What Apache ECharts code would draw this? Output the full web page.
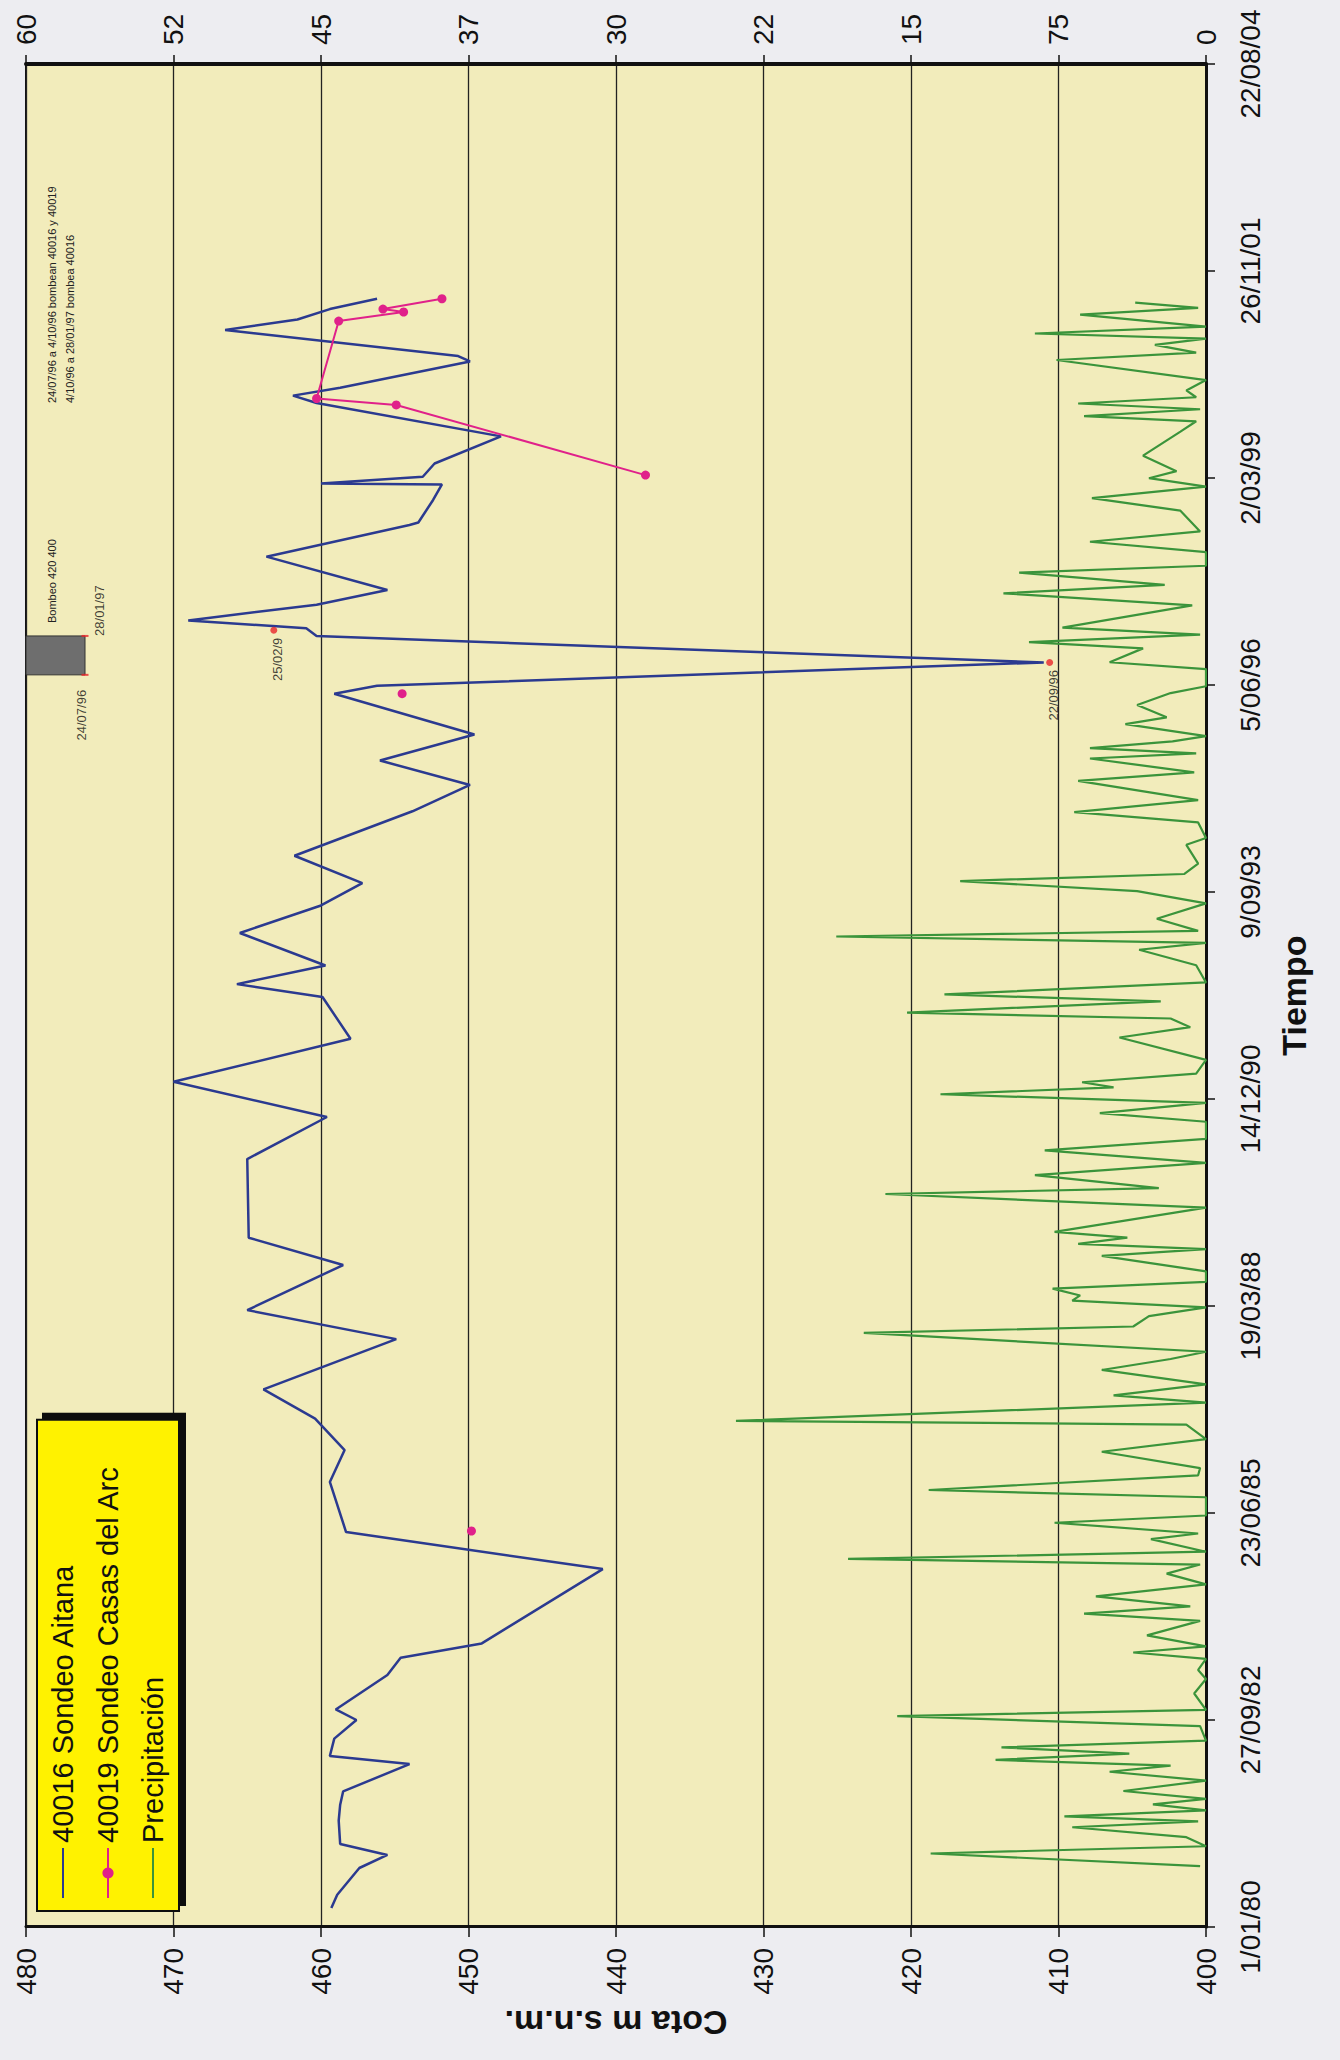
<!DOCTYPE html>
<html>
<head>
<meta charset="utf-8">
<script src="https://cdn.jsdelivr.net/npm/echarts@6/dist/echarts.min.js"></script>
<style>
  html, body { margin: 0; padding: 0; background: #ededf1; width: 1340px; height: 2060px; overflow: hidden; }
  /* El gráfico se compone apaisado y se gira 90° para la página vertical */
  #lienzo { position: absolute; left: 0; top: 0; width: 2060px; height: 1340px;
            transform-origin: 0 0; transform: translateY(2060px) rotate(-90deg); }
</style>
</head>
<body>
<div id="lienzo"></div>
<script>
// Tiempo expresado en días transcurridos desde el 1/01/80
const etiquetasTiempo = ['1/01/80', '27/09/82', '23/06/85', '19/03/88', '14/12/90',
                         '9/09/93', '5/06/96', '2/03/99', '26/11/01', '22/08/04'];
const etiquetasPrecip = ['0', '75', '15', '22', '30', '37', '45', '52', '60'];

// 40016 Sondeo Aitana (cota, m s.n.m.)
const diasAitana = [92, 156, 285, 348, 401, 514, 591, 655, 787, 826, 910, 1000, 1051, 1217, 1301,
  1370, 1729, 1908, 2150, 2304, 2456, 2597, 2840, 2980, 3198, 3330, 3710, 3913, 4083, 4291, 4493,
  4555, 4645, 4802, 4935, 5043, 5175, 5390, 5517, 5635, 5761, 5958, 5996, 6109, 6237, 6274, 6312,
  6388, 6459, 6620, 6773, 6785, 6894, 6969, 6974, 7006, 7070, 7201, 7362, 7398, 7436, 7563, 7589,
  7715, 7766, 7816, 7866];
const cotaAitana = [459.3, 458.9, 457.4, 455.5, 458.7, 458.8, 458.7, 458.5, 454.0, 459.4, 459.1, 457.6,
  459.0, 455.5, 454.6, 449.1, 440.9, 458.3, 459.4, 458.4, 460.4, 463.9, 454.9, 465.0, 458.5, 464.9,
  465.0, 459.6, 470.0, 458.0, 459.9, 465.7, 459.7, 465.5, 460.0, 457.2, 461.8, 453.8, 449.9, 456.0,
  449.6, 459.1, 456.2, 411.0, 460.3, 461.0, 469.0, 460.3, 455.5, 463.7, 454.0, 453.4, 452.4, 451.8,
  460.0, 453.1, 452.3, 447.8, 460.3, 461.9, 458.7, 449.9, 450.7, 466.5, 461.6, 459.4, 456.2];

// 40019 Sondeo Casas del Arc
const diasCasas = [1913, 5958, 7014, 7353, 7384, 7758, 7802, 7816, 7866];
const cotaCasas = [449.8, 454.5, 438.0, 454.9, 460.3, 458.8, 454.4, 455.8, 451.8];

// Precipitación
const diasPrecip = [294, 355, 390, 434, 482, 510, 534, 563, 592, 619, 657, 707, 750, 780, 807, 838,
  868, 900, 970, 1019, 1049, 1128, 1198, 1242, 1295, 1326, 1356, 1409, 1479, 1514, 1549, 1597, 1655,
  1707, 1751, 1778, 1813, 1874, 1901, 1953, 1988, 2076, 2111, 2182, 2217, 2296, 2357, 2427, 2445,
  2533, 2568, 2621, 2691, 2744, 2779, 2870, 2901, 2951, 2993, 3026, 3051, 3084, 3117, 3167, 3242,
  3275, 3300, 3330, 3358, 3475, 3541, 3569, 3632, 3691, 3752, 3807, 3890, 3932, 3981, 4023, 4056,
  4081, 4123, 4189, 4297, 4347, 4389, 4417, 4472, 4505, 4563, 4646, 4721, 4754, 4785, 4812, 4871,
  4945, 5004, 5053, 5087, 5137, 5228, 5261, 5336, 5386, 5444, 5537, 5578, 5645, 5670, 5695, 5728,
  5753, 5811, 5844, 5903, 5961, 5994, 6077, 6110, 6177, 6207, 6243, 6277, 6385, 6443, 6484, 6543,
  6576, 6642, 6692, 6742, 6842, 6903, 6958, 6999, 7033, 7108, 7224, 7274, 7299, 7332, 7360, 7390,
  7423, 7473, 7570, 7606, 7643, 7673, 7698, 7731, 7789, 7822, 7847];
const valorPrecip = [0.3, 14.0, 0, 1.0, 6.8, 0.4, 7.2, 0, 2.7, 0, 4.2, 0, 4.9, 1.8, 10.7, 3.9,
  10.4, 0, 0.3, 15.7, 0, 0.6, 0, 0.4, 0, 3.7, 0, 3.0, 0.3, 6.2, 0.8, 5.6, 0,
  2.0, 0.3, 18.2, 0, 2.8, 0.4, 7.7, 0, 0, 14.1, 0.4, 0.3, 5.3, 0, 1.0, 23.9,
  0, 4.7, 0, 5.3, 1.8, 0, 17.4, 3.7, 2.9, 0, 6.8, 6.4, 7.8, 0, 0, 5.3,
  0, 6.5, 4.0, 7.7, 0, 16.3, 2.4, 8.7, 0, 8.2, 0, 0, 5.4, 0, 13.5, 4.7,
  6.3, 0.5, 0, 4.4, 0.8, 1.8, 15.2, 2.3, 13.3, 0, 0.5, 3.4, 0, 18.8, 0.4, 2.5,
  0, 3.5, 12.5, 1.1, 0.4, 1.0, 0, 0.4, 6.7, 0.4, 6.5, 0.6, 5.9, 0.5, 5.9, 1.7,
  0, 4.1, 2.0, 3.5, 1.8, 0, 0, 4.9, 3.2, 9.0, 0.3, 7.3, 0.7, 10.3, 2.1, 9.5,
  0, 0, 5.9, 0.3, 1.3, 5.8, 0, 2.9, 1.5, 3.2, 1.3, 0.5, 6.2, 0.3, 6.5, 0.5,
  1.0, 0, 7.6, 0.5, 2.6, 0, 8.7, 0, 6.4, 0.4, 3.6];

// Medidas señaladas con su fecha
const fechasMarcadas = ['22/09/96', '25/02/97'];
const cotaMarcadas = [410.6, 463.2];
const textoMarcadas = ['22/09/96', '25/02/9'];

// Periodo de bombeo
const bombeoFechas = ['24/07/96', '28/01/97'];
const bombeoCotas = [476, 480];

const nombres = ['40016 Sondeo Aitana', '40019 Sondeo Casas del Arc', 'Precipitación'];
const FUENTE = '"Liberation Sans", Arial, "DejaVu Sans", sans-serif';

function dia(fecha) {
  const [d, m, a] = fecha.split('/').map(Number);
  const anio = a < 50 ? 2000 + a : 1900 + a;
  return Math.round((Date.UTC(anio, m - 1, d) - Date.UTC(1980, 0, 1)) / 86400000);
}
function pares(xs, ys) { return xs.map((x, i) => [x, ys[i]]); }
function conHuecos(xs, ys, salto) {
  const out = [];
  xs.forEach((x, i) => {
    if (i > 0 && x - xs[i - 1] > salto) out.push([(x + xs[i - 1]) / 2, '-']);
    out.push([x, ys[i]]);
  });
  return out;
}

const ini = dia(bombeoFechas[0]), fin = dia(bombeoFechas[1]);

const chart = echarts.init(document.getElementById('lienzo'), null,
  { renderer: 'svg', width: 2060, height: 1340 });

chart.setOption({
  animation: false,
  backgroundColor: '#ededf1',
  textStyle: { fontFamily: FUENTE },
  grid: { left: 133, right: 64, top: 26, bottom: 134, show: true,
          backgroundColor: '#f2ecbb', borderColor: '#111', borderWidth: 2 },
  legend: {
    data: [
      { name: nombres[0], itemStyle: { opacity: 0 } },
      { name: nombres[1] },
      { name: nombres[2], itemStyle: { opacity: 0 } }
    ],
    orient: 'vertical', left: 149, top: 37,
    backgroundColor: '#fff200', borderColor: '#111', borderWidth: 2,
    shadowColor: '#111', shadowOffsetX: 6, shadowOffsetY: 6, shadowBlur: 0,
    padding: [11, 46, 11, 12], itemWidth: 50, itemHeight: 14, itemGap: 15,
    textStyle: { fontSize: 29, color: '#111', lineHeight: 30, fontFamily: FUENTE }
  },
  xAxis: {
    type: 'value', min: 0, max: 9000, interval: 1000,
    name: 'Tiempo', nameLocation: 'middle', nameGap: 71,
    nameTextStyle: { fontSize: 34, fontWeight: 'bold', color: '#111' },
    axisLine: { lineStyle: { color: '#111', width: 3 } },
    axisTick: { length: 9, lineStyle: { color: '#111', width: 1.5 } },
    axisLabel: { margin: 30, fontSize: 28, color: '#111',
                 formatter: v => etiquetasTiempo[Math.round(v / 1000)] },
    splitLine: { show: false }
  },
  yAxis: [
    {
      type: 'value', min: 400, max: 480, interval: 10,
      name: 'Cota m s.n.m.', nameLocation: 'middle', nameGap: 78,
      nameTextStyle: { fontSize: 34, fontWeight: 'bold', color: '#111' },
      axisLine: { show: true, lineStyle: { color: '#111', width: 3 } },
      axisTick: { show: true, length: 10, lineStyle: { color: '#111', width: 1.5 } },
      axisLabel: { margin: 21, fontSize: 28, color: '#111' },
      splitLine: { lineStyle: { color: '#222', width: 1.3 } }
    },
    {
      type: 'value', min: 0, max: 60, interval: 7.5, position: 'right',
      axisLine: { show: true, lineStyle: { color: '#111', width: 4 } },
      axisTick: { show: true, length: 9, lineStyle: { color: '#111', width: 1.5 } },
      axisLabel: { margin: 19, fontSize: 28, color: '#111',
                   formatter: v => etiquetasPrecip[Math.round(v / 7.5)] },
      splitLine: { show: false }
    }
  ],
  graphic: [
    { type: 'text', x: 1657, y: 52, style: { text: '24/07/96 a 4/10/96 bombean 40016 y 40019',
      fontSize: 11, fill: '#222', verticalAlign: 'middle', fontFamily: FUENTE } },
    { type: 'text', x: 1657, y: 70, style: { text: '4/10/96 a 28/01/97 bombea 40016',
      fontSize: 11, fill: '#222', verticalAlign: 'middle', fontFamily: FUENTE } },
    { type: 'text', x: 1437, y: 52, style: { text: 'Bombeo 420 400',
      fontSize: 11, fill: '#222', verticalAlign: 'middle', fontFamily: FUENTE } }
  ],
  series: [
    {
      name: nombres[2], type: 'line', yAxisIndex: 1, z: 2,
      data: pares(diasPrecip, valorPrecip), symbol: 'none',
      lineStyle: { color: '#3b943b', width: 2.2 }, itemStyle: { color: '#3b943b' }
    },
    {
      name: nombres[0], type: 'line', yAxisIndex: 0, z: 3,
      data: pares(diasAitana, cotaAitana), symbol: 'none',
      lineStyle: { color: '#2b3a90', width: 2.5 }, itemStyle: { color: '#2b3a90' },
      markArea: {
        silent: true,
        itemStyle: { color: '#6e6e6e', borderColor: '#333', borderWidth: 1 },
        data: [[{ coord: [ini, bombeoCotas[0]] }, { coord: [fin, bombeoCotas[1]] }]]
      }
    },
    {
      name: nombres[1], type: 'line', yAxisIndex: 0, z: 4,
      data: conHuecos(diasCasas, cotaCasas, 1000), connectNulls: false,
      symbol: 'circle', symbolSize: 9, showSymbol: true, showAllSymbol: true,
      lineStyle: { color: '#e0218a', width: 2 }, itemStyle: { color: '#e0218a' }
    },
    {
      name: 'fechas', type: 'scatter', yAxisIndex: 0, z: 5,
      data: pares(fechasMarcadas.map(dia), cotaMarcadas),
      symbol: 'circle', symbolSize: 7, itemStyle: { color: '#e8262a' },
      label: { show: true, position: 'left', distance: 4, offset: [0, 4], fontSize: 13, color: '#111',
               formatter: p => textoMarcadas[p.dataIndex] }
    },
    {
      name: 'bombeo', type: 'scatter', yAxisIndex: 0, z: 5,
      data: [
        { value: [ini, bombeoCotas[0]],
          label: { position: 'left', distance: 14, offset: [0, -4] } },
        { value: [fin, bombeoCotas[0]],
          label: { position: 'bottom', align: 'left', distance: 5, offset: [0, -1] } }
      ],
      symbol: 'rect', symbolSize: [2, 7], itemStyle: { color: '#e8262a' },
      label: { show: true, fontSize: 13, color: '#111',
               formatter: p => bombeoFechas[p.dataIndex] },
      emphasis: { disabled: true }
    }
  ]
});
</script>
</body>
</html>
